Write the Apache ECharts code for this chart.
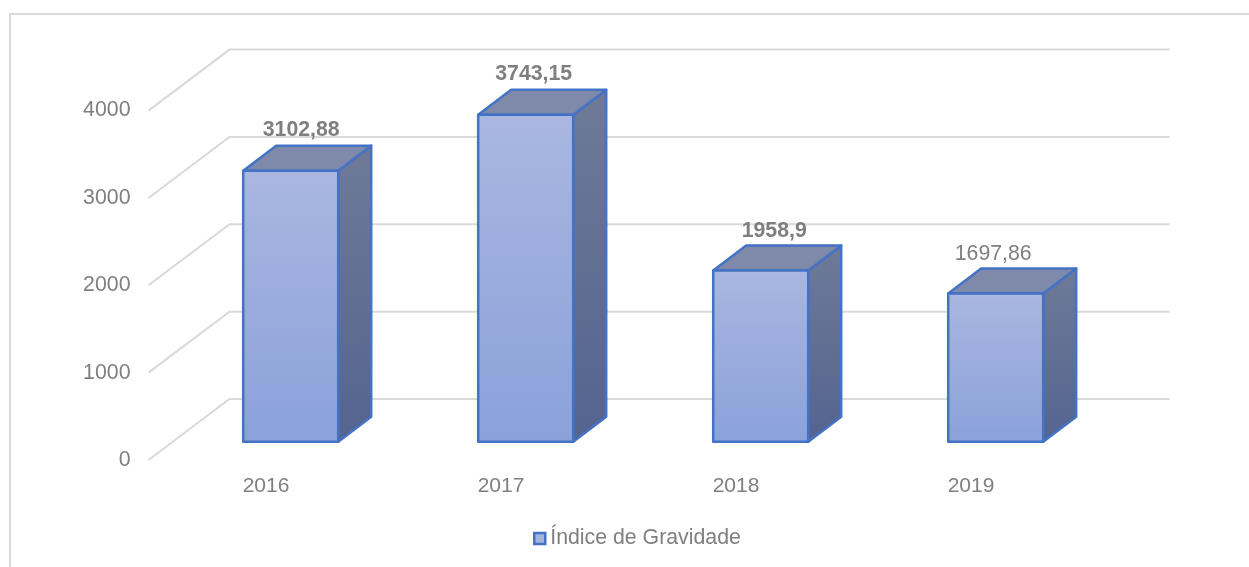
<!DOCTYPE html>
<html>
<head>
<meta charset="utf-8">
<style>html,body{margin:0;padding:0;background:#fff}#c{width:1249px;height:567px}</style>
<script src="https://cdn.jsdelivr.net/npm/echarts@6/dist/echarts.min.js"></script>
</head>
<body>
<div id="c"></div>
<script>
const years = ['2016', '2017', '2018', '2019'];
const gravidade = [3102.88, 3743.15, 1958.9, 1697.86];
const yTicks = [0, 1000, 2000, 3000, 4000];
const seriesName = 'Índice de Gravidade';

// Layout of the fake-3D drawing (pixels), kept apart from the data
const WALL = [81, -61], FRONT = [24.7, -18.3], DEPTH = [33, -25], HALF = 47.5;
const labelShift = [10.5, 8, 13.5, -2.5];
const labelGap = [40.2, 40.2, 39.2, 39.2];
const labelBold = [true, true, true, false];
const EDGE = '#4472c4', FONT = '"Liberation Sans", Arial, sans-serif', TXT = '#7f7f7f';

const grad = (x2, y2, a, b) => new echarts.graphic.LinearGradient(0, 0, x2, y2, [{offset: 0, color: a}, {offset: 1, color: b}]);

const chart = echarts.init(document.getElementById('c'), null, {renderer: 'canvas'});
chart.setOption({
  animation: false,
  backgroundColor: '#fff',
  grid: {left: 148.5, right: 160.5, top: 110.6, bottom: 107, containLabel: false},
  xAxis: {
    type: 'category', data: years,
    axisLine: {show: false}, axisTick: {show: false}, splitLine: {show: false},
    axisLabel: {color: TXT, fontFamily: FONT, fontSize: 21, margin: 16}
  },
  yAxis: {
    type: 'value', min: 0, max: 4000, interval: 1000,
    axisLine: {show: false}, axisTick: {show: false}, splitLine: {show: false},
    axisLabel: {color: TXT, fontFamily: FONT, fontSize: 21.3, margin: 18, verticalAlign: 'middle', lineHeight: 24, padding: [0, 0, 2, 0],
      formatter: v => String(v)}
  },
  legend: {
    data: [seriesName], left: 528, top: 523, itemWidth: 11, itemHeight: 11, itemGap: 5,
    icon: 'rect',
    itemStyle: {color: '#a4b3de', borderColor: EDGE, borderWidth: 2.5},
    textStyle: {color: TXT, fontFamily: FONT, fontSize: 21.3}
  },
  graphic: [{
    type: 'polyline', silent: true, z: -10,
    shape: {points: [[10, 567], [10, 14], [1249, 14]]},
    style: {fill: 'none', stroke: '#d9d9d9', lineWidth: 2}
  }],
  series: [
    {
      name: 'grade', type: 'custom', coordinateSystem: 'cartesian2d', silent: true, z: 1,
      data: yTicks.map(v => [years[0], v]),
      encode: {x: 0, y: 1},
      renderItem(params, api) {
        const y = api.coord([0, api.value(1)])[1];
        const x0 = params.coordSys.x, x1 = x0 + params.coordSys.width;
        const st = {stroke: '#d9d9d9', lineWidth: 2, fill: 'none'};
        return {type: 'polyline', shape: {points: [[x0, y], [x0 + WALL[0], y + WALL[1]], [x1 + WALL[0], y + WALL[1]]]}, style: st};
      }
    },
    {
      name: seriesName, type: 'custom', coordinateSystem: 'cartesian2d', silent: true, z: 2,
      itemStyle: {color: '#a4b3de'},
      data: years.map((y, i) => [y, gravidade[i]]),
      encode: {x: 0, y: 1},
      renderItem(params, api) {
        const i = params.dataIndex, val = api.value(1);
        const top = api.coord([api.value(0), val]), base = api.coord([api.value(0), 0]);
        const cx = top[0] + FRONT[0], yt = top[1] + FRONT[1], yb = base[1] + FRONT[1];
        const l = cx - HALF, r = cx + HALF, dx = DEPTH[0], dy = DEPTH[1];
        const edge = {stroke: EDGE, lineWidth: 2.5, lineJoin: 'round'};
        return {type: 'group', children: [
          {type: 'polygon', shape: {points: [[r, yt], [r + dx, yt + dy], [r + dx, yb + dy], [r, yb]]},
            style: {fill: grad(0.3, 1, '#6f7a98', '#54648f'), ...edge}},
          {type: 'polygon', shape: {points: [[l, yt], [l + dx, yt + dy], [r + dx, yt + dy], [r, yt]]},
            style: {fill: '#7f8aab', ...edge}},
          {type: 'polygon', shape: {points: [[l, yt], [r, yt], [r, yb], [l, yb]]},
            style: {fill: grad(0, 1, '#a9b7e1', '#8aa1da'), ...edge}},
          {type: 'text', style: {
            text: String(gravidade[i]).replace('.', ','),
            x: cx + labelShift[i], y: yt - labelGap[i],
            fill: TXT, align: 'center', verticalAlign: 'middle',
            font: (labelBold[i] ? 'bold ' : '') + '21.3px ' + FONT
          }}
        ]};
      }
    }
  ]
});
</script>
</body>
</html>
